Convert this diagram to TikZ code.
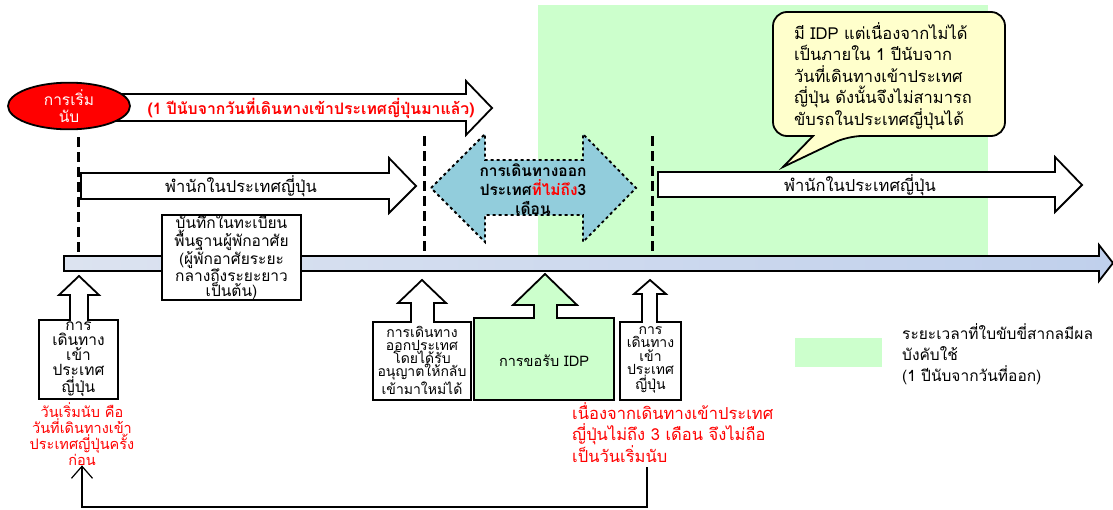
\documentclass[tikz,border=0pt]{standalone}
\usepackage{fontspec}
\setmainfont[Script=Thai]{Loma}
\usetikzlibrary{positioning,arrows.meta,shapes.geometric}
\definecolor{keygreen}{HTML}{CCFFCC}
\definecolor{tripblue}{HTML}{92CDDC}
\definecolor{notered}{HTML}{FF0000}
\definecolor{bubbleyellow}{HTML}{FFFFCC}
\definecolor{barleft}{HTML}{DCE3F0}
\definecolor{barmid}{HTML}{D9D9D9}
\definecolor{barright}{HTML}{C0D0EC}

\begin{document}
\begin{tikzpicture}[x=1pt,y=-1pt,
            outline/.style={draw,line width=1.8pt,line join=miter,fill=white},
            guide/.style={line width=3pt,dash pattern=on 10pt off 5pt},
            txt/.style={inner sep=0pt,align=center,font=\fontsize{16.5}{17}\selectfont},
            boxtxt/.style={txt,font=\fontsize{15.5}{15}\selectfont},
            tighttxt/.style={txt,font=\fontsize{14}{13.3}\selectfont},
            note/.style={txt,text=notered,font=\fontsize{14.5}{16}\selectfont}]
            \useasboundingbox (0,0) rectangle (1113,509);
            \fill[keygreen] (538,5) rectangle (988,255);
            \draw[outline] (110,94) -- (466,94) -- (466,81) -- (492,108) -- (466,135) -- (466,121) -- (110,121) -- cycle;
            \node[ellipse,draw,line width=1.8pt,fill=notered,minimum width=122,minimum height=46,
                txt,text=white,font=\fontsize{15.5}{17}\selectfont] (start) at (69,106) {การเริ่ม\\นับ};
            \node[txt,text=notered,font=\bfseries\fontsize{15.8}{17}\selectfont] (year) at (311,108)
                {(1 ปีนับจากวันที่เดินทางเข้าประเทศญี่ปุ่นมาแล้ว)};
            \coordinate (g1) at (78,137);
            \coordinate (g2) at (424,136);
            \coordinate (g3) at (652,136);
            \foreach \g in {g1,g2,g3}
                \draw[guide] (\g) -- ++(0,117);
            \draw[outline] (81,173) -- (389,173) -- (389,158) -- (416,186) -- (389,213) -- (389,199) -- (81,199) -- cycle;
            \node[txt] (stay1) at (241,186) {พำนักในประเทศญี่ปุ่น};
            \draw[outline] (658,172) -- (1055,172) -- (1055,157) -- (1082,185) -- (1055,212) -- (1055,197) -- (658,197) -- cycle;
            \node[txt] (stay2) at (860,185) {พำนักในประเทศญี่ปุ่น};
            \draw[line width=1.8pt,dashed,fill=tripblue] (431,188) -- (485,134) -- (485,160) -- (583,160) -- (583,134)
                -- (636,188) -- (583,242) -- (583,215) -- (485,215) -- (485,242) -- cycle;
            \node[txt,font=\bfseries\fontsize{15.5}{19}\selectfont] (trip) at (533,189)
                {การเดินทางออก\\ประเทศ{\color{notered}ที่ไม่ถึง}3\\เดือน};
            \draw[line width=1.8pt,fill=bubbleyellow] (889,12) [rounded corners=14pt] -- (1005,12) -- (1005,136)
                -- (848,136) [sharp corners] -- (783,167) -- (813,136) [rounded corners=14pt] -- (773,136) -- (773,12) -- cycle;
            \node[txt,align=left,font=\fontsize{16.5}{21.5}\selectfont] (why) at (883,76)
                {มี IDP แต่เนื่องจากไม่ได้\\เป็นภายใน 1 ปีนับจาก\\วันที่เดินทางเข้าประเทศ\\ญี่ปุ่น ดังนั้นจึงไม่สามารถ\\ขับรถในประเทศญี่ปุ่นได้};
            \draw[line width=1.8pt,left color=barleft,middle color=barmid,right color=barright]
                (64,256) -- (1099,256) -- (1099,245) -- (1113,263) -- (1099,281) -- (1099,271) -- (64,271) -- cycle;
            \node[draw,line width=1.8pt,fill=white,minimum width=139,minimum height=79,boxtxt] (record) at (231.5,257.5)
                {บันทึกในทะเบียน\\พื้นฐานผู้พักอาศัย\\(ผู้พักอาศัยระยะ\\กลางถึงระยะยาว\\เป็นต้น)};
            \draw[outline] (39,320) -- (70,320) -- (70,295) -- (59,295) -- (79,276) -- (99,295) -- (88,295) -- (88,320)
                -- (118,320) -- (118,399) -- (39,399) -- cycle;
            \node[boxtxt] (entry1) at (78.5,359) {การ\\เดินทาง\\เข้า\\ประเทศ\\ญี่ปุ่น};
            \draw[outline] (373,322) -- (411,322) -- (411,303) -- (398,303) -- (422,280) -- (446,303) -- (434,303) -- (434,322)
                -- (471,322) -- (471,400) -- (373,400) -- cycle;
            \node[tighttxt] (permit) at (422,360) {การเดินทาง\\ออกประเทศ\\โดยได้รับ\\อนุญาตให้กลับ\\เข้ามาใหม่ได้};
            \draw[outline,fill=keygreen] (474,318) -- (534,318) -- (534,305) -- (513,305) -- (545,274) -- (577,305) -- (557,305)
                -- (557,318) -- (614,318) -- (614,400) -- (474,400) -- cycle;
            \node[txt,font=\fontsize{14.5}{15}\selectfont] (idp) at (544,361) {การขอรับ IDP};
            \draw[outline] (620,322) -- (642,322) -- (642,294) -- (634,294) -- (650,280) -- (666,294) -- (657,294) -- (657,322)
                -- (681,322) -- (681,400) -- (620,400) -- cycle;
            \node[tighttxt] (entry2) at (650.5,360) {การ\\เดินทาง\\เข้า\\ประเทศ\\ญี่ปุ่น};
            \node[note,anchor=north] (first) at (82,402)
                {วันเริ่มนับ คือ\\วันที่เดินทางเข้า\\ประเทศญี่ปุ่นครั้ง\\ก่อน};
            \node[note,align=left,font=\fontsize{16.5}{21.5}\selectfont,anchor=north west] (notfirst) at (572,402)
                {เนื่องจากเดินทางเข้าประเทศ\\ญี่ปุ่นไม่ถึง 3 เดือน จึงไม่ถือ\\เป็นวันเริ่มนับ};
            \coordinate (back) at (647,467);
            \draw[line width=1.2pt,-{Straight Barb[length=12pt,width=21pt]}] (back) -- ++(0,40) -| (first.south);
            \fill[keygreen] (795,338) rectangle (882,367);
            \node[txt,align=left,font=\fontsize{15.5}{21}\selectfont,anchor=north west] (key) at (902,323)
                {ระยะเวลาที่ใบขับขี่สากลมีผล\\บังคับใช้\\(1 ปีนับจากวันที่ออก)};
\end{tikzpicture}
\end{document}
